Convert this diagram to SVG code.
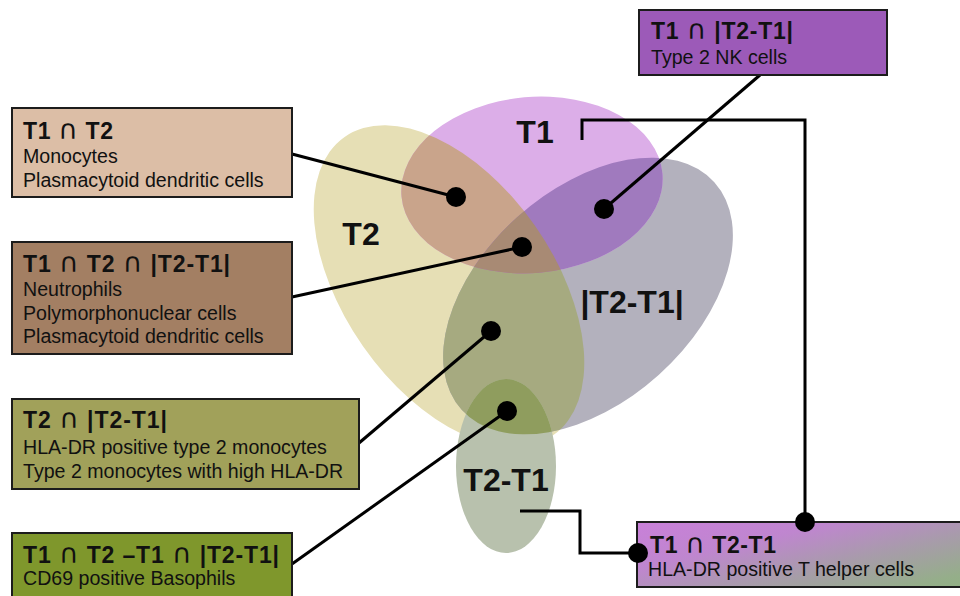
<svg xmlns="http://www.w3.org/2000/svg" width="960" height="596" viewBox="0 0 960 596">
  <style>
    .box { stroke: #1c1c1c; stroke-width: 2; }
    .ttl { font-family: "Liberation Sans", Arial, "DejaVu Sans", sans-serif; font-weight: bold; font-size: 23px; fill: #111; }
    .cap { font-family: "DejaVu Sans", sans-serif; font-weight: normal; font-size: 27px; }
    .txt { font-family: "Liberation Sans", Arial, "DejaVu Sans", sans-serif; font-size: 19.6px; fill: #111; }
    .set { font-family: "Liberation Sans", Arial, "DejaVu Sans", sans-serif; font-weight: bold; font-size: 32px; fill: #111; text-anchor: middle; }
    .wire { fill: none; stroke: #000; stroke-width: 3; }
    .dot { fill: #000; }
  </style>
  <defs>
    <ellipse id="eT1" cx="532" cy="185" rx="131" ry="88" transform="rotate(-5 532 185)"/>
    <ellipse id="eT2" cx="449" cy="286" rx="182" ry="105" transform="rotate(55 449 286)"/>
    <ellipse id="eD" cx="588" cy="296" rx="170" ry="106" transform="rotate(-42 588 296)"/>
    <ellipse id="eS" cx="506" cy="466" rx="50" ry="87"/>
    <clipPath id="cT1"><use href="#eT1"/></clipPath>
    <clipPath id="cT2"><use href="#eT2"/></clipPath>
    <clipPath id="cD"><use href="#eD"/></clipPath>
    <clipPath id="cS"><use href="#eS"/></clipPath>
    <linearGradient id="gMix" gradientUnits="userSpaceOnUse" x1="817" y1="465" x2="863" y2="659">
      <stop offset="0" stop-color="#cc7edc"/>
      <stop offset="0.3" stop-color="#bf86cf"/>
      <stop offset="0.5" stop-color="#a89bab"/>
      <stop offset="0.7" stop-color="#95ae8a"/>
      <stop offset="1" stop-color="#84ba72"/>
    </linearGradient>
  </defs>

  <!-- Venn sets -->
  <g id="venn">
    <use href="#eT2" fill="#e6dfb5"/>
    <use href="#eD" fill="#b3b1bd"/>
    <use href="#eT1" fill="#dcaee8"/>
    <!-- T2 and |T2-T1| overlap -->
    <g clip-path="url(#cT2)"><use href="#eD" fill="#a6aa80"/></g>
    <use href="#eS" fill="#b8c1ad"/>
    <g clip-path="url(#cS)"><g clip-path="url(#cT2)"><use href="#eD" fill="#8f9d5e"/></g></g>
    <!-- overlaps with T1 -->
    <g clip-path="url(#cT1)">
      <use href="#eT2" fill="#c9a48b"/>
      <use href="#eD" fill="#a07abe"/>
      <g clip-path="url(#cT2)"><use href="#eD" fill="#a88a74"/></g>
    </g>
    <text class="set" x="535" y="143">T1</text>
    <text class="set" x="361" y="245">T2</text>
    <text class="set" x="632" y="313">|T2-T1|</text>
    <text class="set" x="506" y="491">T2-T1</text>
  </g>

  <!-- connectors -->
  <g id="connectors">
    <line class="wire" x1="292" y1="154" x2="456" y2="197"/>
    <line class="wire" x1="292" y1="297" x2="522" y2="247"/>
    <line class="wire" x1="359" y1="443" x2="491" y2="331"/>
    <line class="wire" x1="292" y1="564" x2="507" y2="411"/>
    <line class="wire" x1="760" y1="75" x2="604" y2="209"/>
    <path class="wire" d="M582,140 V120 H805 V522"/>
    <path class="wire" d="M520,511 H580 V553 H638"/>
  </g>

  <g id="node-t1-t2">
    <rect class="box" x="12" y="108" width="280" height="89" fill="#dcbea6"/>
    <text class="ttl" x="23" y="139" textLength="90" lengthAdjust="spacing">T1 <tspan class="cap">∩</tspan> T2</text>
    <text class="txt" x="23" y="163">Monocytes</text>
    <text class="txt" x="23" y="187">Plasmacytoid dendritic cells</text>
  </g>

  <g id="node-t1-t2-d">
    <rect class="box" x="12" y="242" width="280" height="112" fill="#a37f63"/>
    <text class="ttl" x="23" y="272" textLength="207" lengthAdjust="spacing">T1 <tspan class="cap">∩</tspan> T2 <tspan class="cap">∩</tspan> |T2-T1|</text>
    <text class="txt" x="23" y="296">Neutrophils</text>
    <text class="txt" x="23" y="319.5">Polymorphonuclear cells</text>
    <text class="txt" x="23" y="343">Plasmacytoid dendritic cells</text>
  </g>

  <g id="node-t2-d">
    <rect class="box" x="12" y="399" width="347" height="90" fill="#a1a15a"/>
    <text class="ttl" x="23" y="428" textLength="144" lengthAdjust="spacing">T2 <tspan class="cap">∩</tspan> |T2-T1|</text>
    <text class="txt" x="23" y="454">HLA-DR positive type 2 monocytes</text>
    <text class="txt" x="23" y="477.5">Type 2 monocytes with high HLA-DR</text>
  </g>

  <g id="node-basophils">
    <rect class="box" x="12" y="533" width="280" height="70" fill="#7f972c"/>
    <text class="ttl" x="23" y="563" textLength="256" lengthAdjust="spacing">T1 <tspan class="cap">∩</tspan> T2 –T1 <tspan class="cap">∩</tspan> |T2-T1|</text>
    <text class="txt" x="23" y="585">CD69 positive Basophils</text>
  </g>

  <g id="node-nk">
    <rect class="box" x="639" y="10" width="248" height="65" fill="#9c5ab8"/>
    <text class="ttl" x="651" y="39" textLength="142" lengthAdjust="spacing">T1 <tspan class="cap">∩</tspan> |T2-T1|</text>
    <text class="txt" x="651" y="64">Type 2 NK cells</text>
  </g>

  <g id="node-t-helper">
    <rect class="box" x="637" y="522" width="330" height="65" fill="url(#gMix)"/>
    <text class="ttl" x="650" y="553" textLength="126" lengthAdjust="spacing">T1 <tspan class="cap">∩</tspan> T2-T1</text>
    <text class="txt" x="648" y="576">HLA-DR positive T helper cells</text>
  </g>

  <!-- junction dots -->
  <g id="dots">
    <circle class="dot" cx="456" cy="197" r="10"/>
    <circle class="dot" cx="522" cy="247" r="10"/>
    <circle class="dot" cx="491" cy="331" r="10"/>
    <circle class="dot" cx="507" cy="411" r="10"/>
    <circle class="dot" cx="604" cy="209" r="10"/>
    <circle class="dot" cx="805" cy="522" r="10"/>
    <circle class="dot" cx="638" cy="553" r="10"/>
  </g>
</svg>
